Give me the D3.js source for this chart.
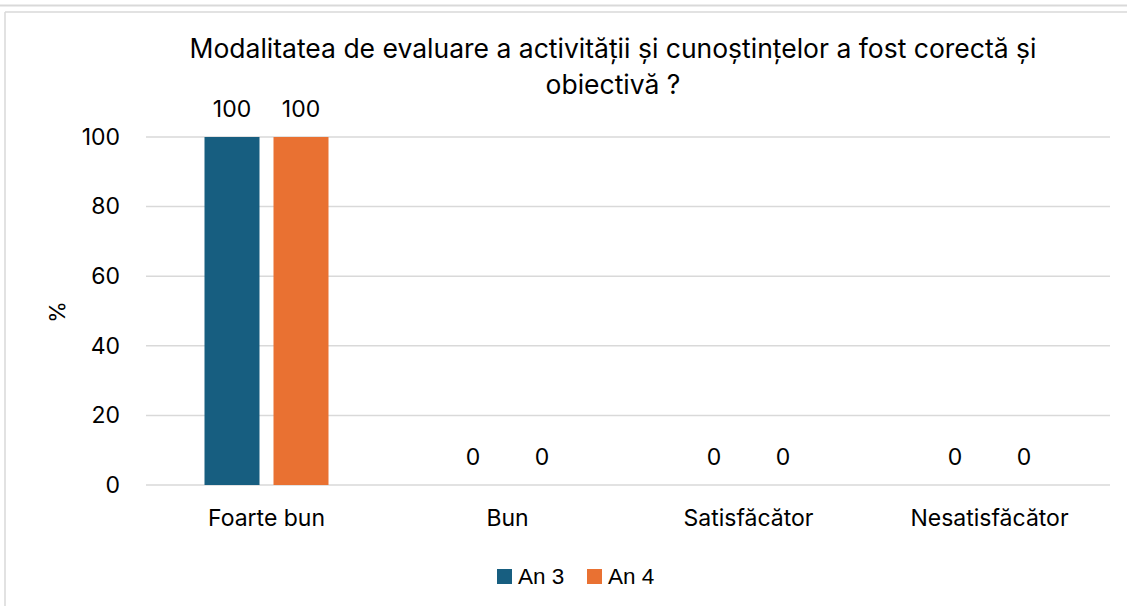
<!DOCTYPE html>
<html><head><meta charset="utf-8">
<script src="https://cdn.jsdelivr.net/npm/d3@7"></script>
<style>body{margin:0;background:#fff}svg{display:block}</style>
</head><body>
<svg id="c" width="1127" height="606"></svg>
<script>
const categories = ["Foarte bun", "Bun", "Satisfăcător", "Nesatisfăcător"];
const seriesNames = ["An 3", "An 4"];
const an3 = [100, 0, 0, 0];
const an4 = [100, 0, 0, 0];
const yTicks = [0, 20, 40, 60, 80, 100];
const titleLines = ["Modalitatea de evaluare a activității și cunoștințelor a fost corectă și", "obiectivă ?"];
const colors = ["#175E80", "#E97132"];

const svg = d3.select("#c");
const font = "Inter, 'Noto Sans', sans-serif";
// frame lines
svg.append("line").attr("x1",0).attr("x2",1127).attr("y1",5.5).attr("y2",5.5).attr("stroke","#d9d9d9").attr("stroke-width",2);
svg.append("line").attr("x1",5).attr("x2",1127).attr("y1",12).attr("y2",12).attr("stroke","#d9d9d9").attr("stroke-width",1.5);
svg.append("line").attr("x1",5).attr("x2",5).attr("y1",12).attr("y2",606).attr("stroke","#d9d9d9").attr("stroke-width",1.5);

const x0 = 146, x1 = 1110, yTop = 137, yBot = 485;
const x = d3.scaleBand().domain(categories).range([x0, x1]);
const y = d3.scaleLinear().domain([0, 100]).range([yBot, yTop]);
const barW = 55, gap = 14;
const sub = d3.scaleOrdinal().domain(seriesNames).range([-(barW+gap)/2, (barW+gap)/2]);

// gridlines
svg.append("g").selectAll("line").data(yTicks).join("line")
  .attr("x1", x0).attr("x2", x1).attr("y1", d=>y(d)).attr("y2", d=>y(d))
  .attr("stroke", "#d9d9d9").attr("stroke-width", 1.5);

// y axis labels
const yAxis = svg.append("g").attr("transform", `translate(${x0},0)`)
  .call(d3.axisLeft(y).tickValues(yTicks).tickSize(0).tickPadding(26));
yAxis.select(".domain").remove();
yAxis.selectAll("text").attr("font-family", font).attr("font-size", 23).attr("fill", "#000");

// x axis labels
const xAxis = svg.append("g").attr("transform", `translate(0,${yBot})`)
  .call(d3.axisBottom(x).tickSize(0).tickPadding(25));
xAxis.select(".domain").remove();
xAxis.selectAll("text").attr("font-family", font).attr("font-size", 23).attr("fill", "#000");

const data = categories.map((c,i)=>({c, vals:[{s:seriesNames[0], v:an3[i]},{s:seriesNames[1], v:an4[i]}]}));
const groups = svg.append("g").selectAll("g").data(data).join("g")
  .attr("transform", d=>`translate(${x(d.c)+x.bandwidth()/2},0)`);
groups.selectAll("rect").data(d=>d.vals).join("rect")
  .attr("x", d=>sub(d.s)-barW/2).attr("width", barW)
  .attr("y", d=>y(d.v)).attr("height", d=>yBot-y(d.v))
  .attr("fill", (d,i)=>colors[i]);
groups.selectAll("text").data(d=>d.vals).join("text")
  .attr("x", d=>sub(d.s)).attr("y", d=>y(d.v)-20)
  .attr("text-anchor","middle").attr("font-family", font).attr("font-size", 23).attr("fill","#000")
  .text(d=>d.v);

// title
svg.append("g").selectAll("text").data(titleLines).join("text")
  .attr("x", 613).attr("y", (d,i)=>58+i*36).attr("text-anchor","middle")
  .attr("font-family", font).attr("font-size", 26.5).attr("fill","#000").text(d=>d);

// y axis title
svg.append("text").attr("transform","translate(65,312) rotate(-90)").attr("text-anchor","middle")
  .attr("font-family", font).attr("font-size", 22).attr("fill","#000").text("%");

// legend
const leg = svg.append("g").selectAll("g").data(seriesNames).join("g")
  .attr("transform",(d,i)=>`translate(${497+i*90},569)`);
leg.append("rect").attr("width",15).attr("height",15).attr("fill",(d,i)=>colors[i]);
leg.append("text").attr("x",21).attr("y",15).attr("font-family","'Liberation Sans', Arial, sans-serif")
  .attr("font-size",22.5).attr("fill","#000").text(d=>d);
</script>
</body></html>
